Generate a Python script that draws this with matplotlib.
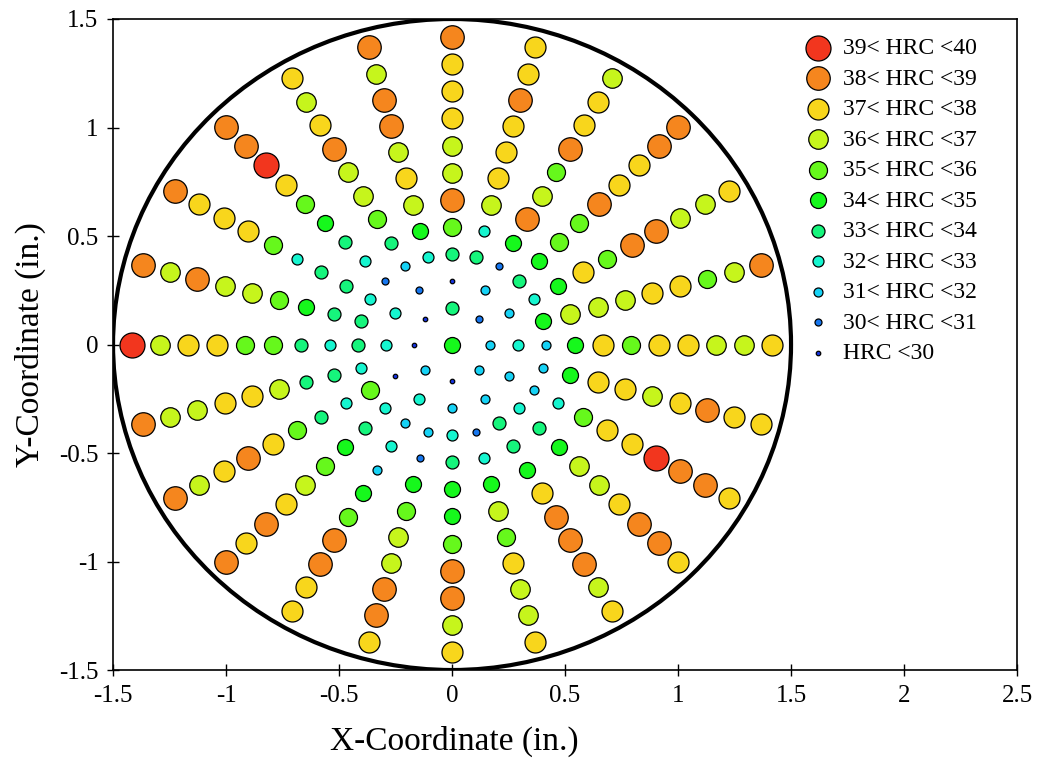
"""
Hardness map of a round bar cross section: HRC readings on polar traverses,
coloured and sized by hardness band, with the bar outline drawn as a circle.
"""

import matplotlib
matplotlib.use('Agg')
import matplotlib.pyplot as plt
import numpy as np
from matplotlib.patches import Circle

# Hardness bands (lower bound of band, 29 means below 30)
hrc_classes = [39, 38, 37, 36, 35, 34, 33, 32, 31, 30, 29]
hrc_labels = ['39< HRC <40', '38< HRC <39', '37< HRC <38', '36< HRC <37',
              '35< HRC <36', '34< HRC <35', '33< HRC <34', '32< HRC <33',
              '31< HRC <32', '30< HRC <31', 'HRC <30']
hrc_colors = ['#F2361E', '#F5861E', '#F8D61C', '#C6F51C', '#66F81C',
              '#16F81C', '#16F57C', '#16F5CF', '#16D2F5', '#1676EE',
              '#1634E0']
# marker diameter in pixels for each band
marker_px = [25, 23.5, 21, 19.5, 18, 16, 13, 11, 9, 7, 4.5]

# Measurement rings (in.) and the angles (deg) sampled on each ring
ring_radius = [0.167, 0.292, 0.417, 0.542, 0.667, 0.792,
               0.917, 1.042, 1.167, 1.292, 1.417]
angles_8 = [0, 45, 90, 135, 180, 225, 270, 315]
angles_12 = [0, 30, 60, 90, 120, 150, 180, 210, 240, 270, 300, 330]
angles_24 = [0, 15, 30, 45, 60, 75, 90, 105, 120, 135, 150, 165,
             180, 195, 210, 225, 240, 255, 270, 285, 300, 315, 330, 345]

# HRC band at the centre and on each ring, in the order of the ring angles
center_hrc = 34
ring_0 = [31, 30, 33, 29, 29, 31, 29, 31]
ring_1 = [32, 31, 31, 29, 30, 32, 32, 29, 32, 31, 31, 31]
ring_2 = [31, 34, 32, 33, 30, 33, 33, 32, 31, 30, 32, 33,
          33, 32, 35, 32, 31, 31, 32, 30, 33, 32, 31, 31]
ring_3 = [34, 36, 34, 34, 34, 32, 35, 34, 33, 32, 33, 33,
          32, 33, 32, 33, 32, 30, 33, 32, 33, 33, 32, 34]
ring_4 = [37, 36, 37, 35, 38, 36, 38, 36, 35, 33, 33, 34,
          33, 33, 33, 34, 31, 34, 34, 34, 34, 34, 35, 37]
ring_5 = [35, 36, 35, 35, 36, 37, 36, 37, 36, 34, 32, 35,
          35, 36, 35, 35, 34, 35, 34, 36, 37, 36, 37, 37]
ring_6 = [37, 37, 38, 38, 35, 37, 36, 36, 36, 35, 35, 36,
          35, 37, 37, 36, 35, 36, 35, 35, 38, 36, 37, 36]
ring_7 = [37, 37, 38, 37, 38, 37, 37, 38, 38, 37, 37, 36,
          37, 37, 38, 37, 38, 36, 38, 37, 38, 37, 39, 37]
ring_8 = [36, 35, 36, 37, 37, 38, 37, 38, 37, 39, 37, 38,
          37, 36, 37, 38, 38, 38, 38, 36, 38, 38, 38, 38]
ring_9 = [36, 36, 36, 38, 37, 37, 37, 36, 36, 38, 37, 36,
          36, 36, 36, 37, 37, 38, 36, 36, 36, 38, 38, 37]
ring_10 = [37, 38, 37, 38, 36, 37, 38, 38, 37, 38, 38, 38,
           39, 38, 38, 38, 37, 37, 37, 37, 37, 37, 37, 37]

ring_angles = [angles_8, angles_12] + [angles_24] * 9
ring_hrc = [ring_0, ring_1, ring_2, ring_3, ring_4, ring_5,
            ring_6, ring_7, ring_8, ring_9, ring_10]

bar_radius = 1.5
x_ticks = [-1.5, -1, -0.5, 0, 0.5, 1, 1.5, 2, 2.5]
x_tick_labels = ['-1.5', '-1', '-0.5', '0', '0.5', '1', '1.5', '2', '2.5']
y_ticks = [-1.5, -1, -0.5, 0, 0.5, 1, 1.5]
y_tick_labels = ['-1.5', '-1', '-0.5', '0', '0.5', '1', '1.5']


def collect_points():
    '''
    Turn the ring tables into flat x, y and band arrays
    '''
    xs, ys, bands = [0.0], [0.0], [center_hrc]
    for r, angles, values in zip(ring_radius, ring_angles, ring_hrc):
        theta = np.radians(angles)
        xs.extend(r * np.cos(theta))
        ys.extend(r * np.sin(theta))
        bands.extend(values)
    return np.array(xs), np.array(ys), np.array(bands)


def main():
    plt.rcParams['font.family'] = ['Liberation Serif', 'DejaVu Serif']

    fig = plt.figure(figsize=(10.38, 7.6), dpi=100)
    ax = fig.add_axes([0.1089, 0.1184, 0.8709, 0.8566])

    xs, ys, bands = collect_points()

    for band, label, color, d in zip(hrc_classes, hrc_labels,
                                     hrc_colors, marker_px):
        sel = bands == band
        size = (d * 0.72) ** 2
        ax.scatter(xs[sel], ys[sel], s=size, c=color, edgecolors='black',
                   linewidths=0.9, label=label, zorder=3)

    # bar outline
    ax.add_patch(Circle((0, 0), bar_radius, fill=False, edgecolor='black',
                        linewidth=3.0, zorder=2))

    ax.set_xlim(-1.5, 2.5)
    ax.set_ylim(-1.5, 1.5)
    ax.set_xticks(x_ticks)
    ax.set_xticklabels(x_tick_labels)
    ax.set_yticks(y_ticks)
    ax.set_yticklabels(y_tick_labels)
    ax.tick_params(direction='inout', length=9, width=1.0, labelsize=18,
                   pad=6)
    for spine in ax.spines.values():
        spine.set_linewidth(1.2)

    # the x label sits under the bar centre rather than the axes centre
    ax.set_xlabel('X-Coordinate (in.)', fontsize=24)
    ax.xaxis.set_label_coords(0.377, -0.085)
    ax.set_ylabel('Y-Coordinate (in.)', fontsize=24)
    ax.yaxis.set_label_coords(-0.074, 0.5)

    ax.legend(loc='upper left', bbox_to_anchor=(0.764, 0.9716),
              frameon=False, fontsize=17, scatterpoints=1,
              handlelength=1.2, handletextpad=0.45, labelspacing=0.38,
              borderpad=0, borderaxespad=0)

    fig.savefig('out.png', dpi=100)


if __name__ == '__main__':
    main()
